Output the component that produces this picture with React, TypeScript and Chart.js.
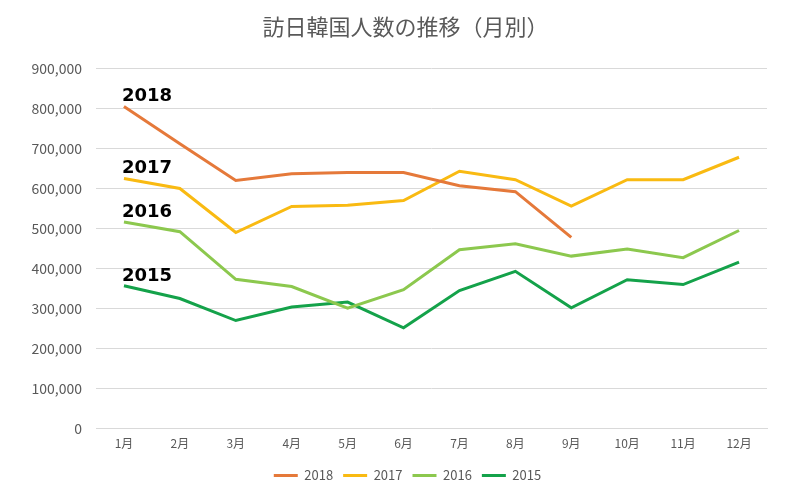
import React, { useEffect, useRef } from "react";
import { Chart, registerables } from "chart.js";

Chart.register(...registerables);

const TITLE = "訪日韓国人数の推移（月別）";
const MONTHS = ["1月", "2月", "3月", "4月", "5月", "6月", "7月", "8月", "9月", "10月", "11月", "12月"];
const SERIES_NAMES = ["2018", "2017", "2016", "2015"];
const V2018 = [805000, 712000, 620000, 637000, 640000, 640000, 607000, 592000, 478000, null, null, null];
const V2017 = [625000, 600000, 490000, 555000, 558000, 570000, 643000, 622000, 556000, 622000, 622000, 678000];
const V2016 = [516000, 492000, 373000, 355000, 301000, 347000, 447000, 462000, 431000, 449000, 427000, 495000];
const V2015 = [357000, 325000, 270000, 304000, 316000, 252000, 345000, 393000, 302000, 372000, 360000, 416000];
const COLORS = ["#E5793A", "#F9BA12", "#8CC84E", "#14A24A"];

const FONT_CJK = "'Noto Sans CJK JP', 'Noto Sans', sans-serif";

const seriesLabelPlugin = {
  id: "seriesLabels",
  afterLayout(chart: any) {
    if (chart.titleBlock) {
      chart.titleBlock.left += 22;
      chart.titleBlock.right += 22;
    }
    if (chart.legend) {
      chart.legend.left += 24;
      chart.legend.right += 24;
    }
  },
  afterDatasetsDraw(chart: any) {
    const ctx = chart.ctx;
    ctx.save();
    ctx.font = "bold 18px 'DejaVu Sans', sans-serif";
    ctx.fillStyle = "#000000";
    ctx.textAlign = "left";
    ctx.textBaseline = "alphabetic";
    chart.data.datasets.forEach((ds: any, i: number) => {
      const meta = chart.getDatasetMeta(i);
      const pt = meta.data[0];
      if (!pt) return;
      ctx.fillText(ds.label, pt.x - 2, pt.y - 5);
    });
    ctx.restore();
  },
};

export default function App() {
  const ref = useRef<HTMLCanvasElement | null>(null);
  useEffect(() => {
    if (!ref.current) return;
    const data = [V2018, V2017, V2016, V2015];
    const chart = new Chart(ref.current, {
      type: "line",
      data: {
        labels: MONTHS,
        datasets: SERIES_NAMES.map((name, i) => ({
          label: name,
          data: data[i] as any,
          borderColor: COLORS[i],
          backgroundColor: COLORS[i],
          borderWidth: 3,
          pointRadius: 0,
          tension: 0,
          spanGaps: false,
        })),
      },
      options: {
        responsive: false,
        animation: false,
        layout: { padding: { left: 0, right: 33, top: 0, bottom: 9 } },
        plugins: {
          title: {
            display: true,
            text: TITLE,
            color: "#595959",
            font: { family: FONT_CJK, size: 22, weight: "normal" },
            padding: { top: 13, bottom: 29 },
          },
          legend: {
            display: true,
            position: "bottom",
            labels: {
              color: "#595959",
              font: { family: FONT_CJK, size: 13 },
              boxWidth: 24,
              boxHeight: 3,
              padding: 10,
              generateLabels: (chart: any) =>
                chart.data.datasets.map((ds: any, i: number) => ({
                  text: ds.label,
                  fillStyle: ds.borderColor,
                  strokeStyle: ds.borderColor,
                  lineWidth: 0,
                  hidden: false,
                  datasetIndex: i,
                  fontColor: "#595959",
                })),
            },
          },
          tooltip: { enabled: false },
        },
        scales: {
          x: {
            offset: true,
            grid: { display: false, drawTicks: false },
            border: { display: true, color: "#D9D9D9" },
            ticks: {
              color: "#595959",
              font: { family: FONT_CJK, size: 12 },
              padding: 8,
              maxRotation: 0,
            },
          },
          y: {
            min: 0,
            max: 900000,
            afterFit: (scale: any) => {
              scale.width = 96;
            },
            grid: { color: "#D9D9D9", drawTicks: false, lineWidth: 1 },
            border: { display: false },
            ticks: {
              stepSize: 100000,
              color: "#595959",
              font: { family: FONT_CJK, size: 14 },
              padding: 14,
              callback: (v: any) => Number(v).toLocaleString("en-US"),
            },
          },
        },
      },
      plugins: [seriesLabelPlugin],
    });
    return () => chart.destroy();
  }, []);
  return (
    <div style={{ position: "fixed", left: 0, top: 0, width: 800, height: 501, background: "#fff" }}>
      <canvas ref={ref} width={800} height={501} style={{ display: "block" }} />
    </div>
  );
}
